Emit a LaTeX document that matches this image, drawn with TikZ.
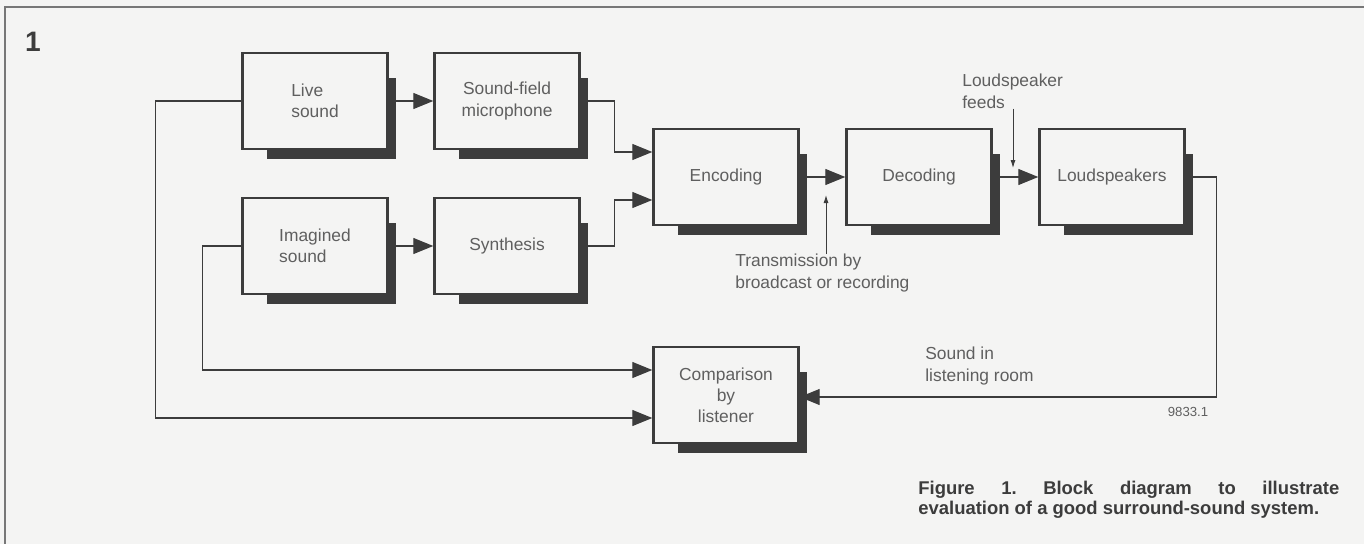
\documentclass[tikz,border=0pt]{standalone}
\usepackage{fontspec}
\setmainfont{Liberation Sans}
\usepackage{xcolor}
\usetikzlibrary{arrows.meta, calc, backgrounds}

\definecolor{paper}{RGB}{244,244,243}
\definecolor{ink}{RGB}{60,60,60}
\definecolor{txt}{RGB}{95,95,95}

\begin{document}
\frenchspacing
\begin{tikzpicture}[x=0.02cm, y=-0.02cm,
    block/.style={rectangle, draw=ink, line width=1.4pt, fill=paper, minimum width=2.9cm, minimum height=1.92cm, align=center, text=txt, font=\fontsize{9.9}{12}\selectfont, inner sep=0pt},
    link/.style={draw=ink, line width=0.7pt, -{Triangle[length=0.4cm, width=0.32cm]}},
    pointer/.style={draw=ink, line width=0.5pt, -{Latex[length=1.6mm, width=1mm]}},
    note/.style={align=left, text=txt, font=\fontsize{9.9}{12}\selectfont, inner sep=0pt}]
    \useasboundingbox (0,0) rectangle (1364,544);

    % frame and figure number
    \draw[ink!70, line width=0.9pt] (1364,7) -- (5,7) -- (5,544);
    \node[text=ink, font=\fontsize{16}{16}\selectfont\bfseries] (fignum) at (33,42) {1};

    % blocks
    \node[block, align=left] (live) at (315,101) {Live\\sound};
    \node[block] (mic) at (507,101) {Sound-field\\microphone};
    \node[block, align=left] (imag) at (315,246) {Imagined\\sound};
    \node[block] (synth) at (507,246) {Synthesis};
    \node[block] (enc) at (726,177) {Encoding};
    \node[block] (dec) at (919,177) {Decoding};
    \node[block] (spk) at (1112,177) {Loudspeakers};
    \node[block] (comp) at (726,395) {Comparison\\by\\listener};

    % paper and shadows
    \begin{scope}[on background layer]
        \fill[paper] (0,0) rectangle (1364,544);
        \foreach \b in {live, mic, imag, synth, enc, dec, spk, comp}
            \fill[ink] ($(\b.south west)+(26,9)$) rectangle ($(\b.north east)+(7,26)$);
    \end{scope}

    % signal path
    \draw[link] (live) -- (mic);
    \draw[link] (imag) -- (synth);
    \draw[link] (mic.east) -| ($(enc.west)+(-38,-25)$) -- ($(enc.west)+(0,-25)$);
    \draw[link] (synth.east) -| ($(enc.west)+(-38,23)$) -- ($(enc.west)+(0,23)$);
    \draw[link] (enc) -- (dec);
    \draw[link] (dec) -- (spk);

    % back to the listener
    \draw[link] (spk.east) -| ($(comp.east)+(417,2)$) -- ($(comp.east)+(0,2)$);
    \draw[link] (live.west) -| ($(comp.west)+(-497,23)$) -- ($(comp.west)+(0,23)$);
    \draw[link] (imag.west) -| ($(comp.west)+(-450,-25)$) -- ($(comp.west)+(0,-25)$);

    % labels
    \node[note, anchor=north west] (trans) at (735,254) {Transmission by\\broadcast or recording};
    \coordinate (transtip) at (826,195);
    \draw[pointer] (trans.north -| transtip) -- (transtip);

    \node[note, anchor=north west] (feeds) at (962,74) {Loudspeaker\\feeds};
    \coordinate (feedtip) at (1013,168);
    \draw[pointer] (feeds.south -| feedtip) -- (feedtip);

    \node[note, anchor=north west] (room) at (925,347) {Sound in\\listening room};
    \node[text=txt, font=\fontsize{7.5}{9}\selectfont, inner sep=0pt] (fignr) at (1188,412) {9833.1};

    % caption
    \node[anchor=north west, inner sep=0pt, text=ink, font=\fontsize{10.5}{11.4}\selectfont\bfseries] (caption) at (918,481)
        {\parbox{8.42cm}{Figure 1. Block diagram to illustrate\linebreak evaluation of a good surround-sound system.}};
\end{tikzpicture}
\end{document}
